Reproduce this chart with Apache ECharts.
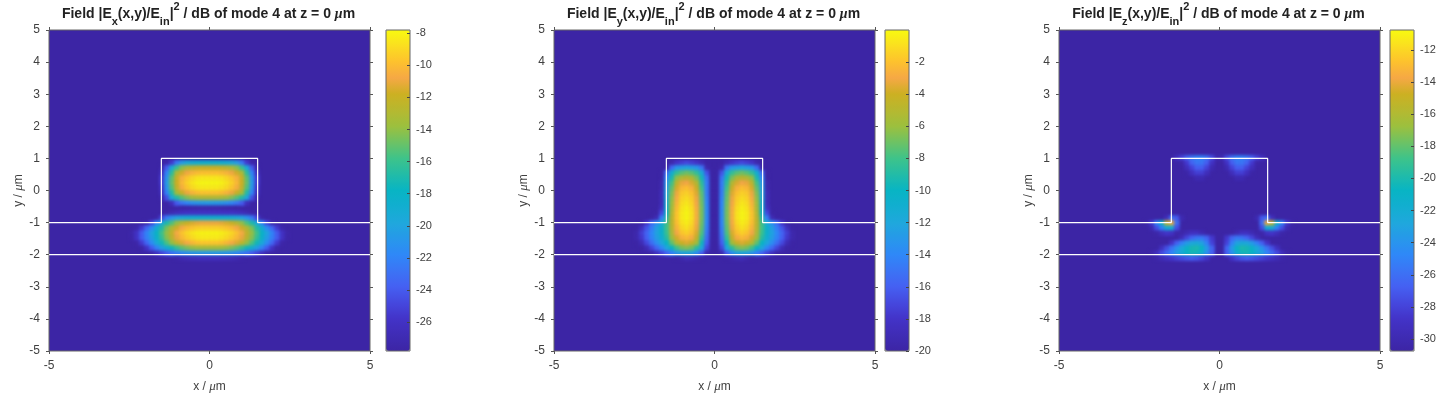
<!DOCTYPE html>
<html>
<head>
<meta charset="utf-8">
<style>
html, body { margin: 0; background: #fff; }
#chart { width: 1445px; height: 394px; }
/* the heatmaps sit on their own layer, soften the mesh like the shaded original */
#chart canvas[data-zr-dom-id="zr_1"] { filter: blur(1.8px); }
</style>
<script src="https://cdn.jsdelivr.net/npm/echarts@6/dist/echarts.min.js"></script>
</head>
<body>
<div id="chart"></div>
<script>
const _ = null // below the colour floor, the plot background shows

// waveguide outline and substrate line, in um
const ridgeX = [-5, -1.5, -1.5, 1.5, 1.5, 5]
const ridgeY = [-1, -1, 1, 1, -1, -1]
const substrateX = [-5, 5]
const substrateY = [-2, -2]

const exBarTicks = [-8, -10, -12, -14, -16, -18, -20, -22, -24, -26]
const eyBarTicks = [-2, -4, -6, -8, -10, -12, -14, -16, -18, -20]
const ezBarTicks = [-12, -14, -16, -18, -20, -22, -24, -26, -28, -30]

const exRange = [-27.8, -7.8]
const eyRange = [-20, 0]
const ezRange = [-30.75, -10.75]

// field in dB on a 64x64 mesh, only the rows and columns around the guide are listed
const exField = [
  [_,_,_,_,_,_,_,-27.5,-25.5,-22.5,-20.5,-19.5,-19,-18.7,-18.5,-18.5,-18.5,-18.5,-18.7,-19,-19.5,-20.5,-22.5,-25.5,-27.5,_,_,_,_,_,_,_],
  [_,_,_,_,_,_,-27.5,-24,-19.5,-16,-14.2,-13.2,-12.6,-12.2,-12,-12,-12,-12,-12.2,-12.6,-13.2,-14.2,-16,-19.5,-24,-27.5,_,_,_,_,_,_],
  [_,_,_,_,_,_,-26.5,-22,-16.5,-13.2,-11.7,-10.9,-10.3,-10,-9.8,-9.8,-9.8,-9.8,-10,-10.3,-10.9,-11.7,-13.2,-16.5,-22,-26.5,_,_,_,_,_,_],
  [_,_,_,_,_,_,-25.5,-21,-15.2,-12,-10.4,-9.6,-9,-8.6,-8.4,-8.4,-8.4,-8.4,-8.6,-9,-9.6,-10.4,-12,-15.2,-21,-25.5,_,_,_,_,_,_],
  [_,_,_,_,_,_,-25.5,-20.5,-15,-11.8,-10.1,-9.2,-8.5,-8.1,-7.9,-7.9,-7.9,-7.9,-8.1,-8.5,-9.2,-10.1,-11.8,-15,-20.5,-25.5,_,_,_,_,_,_],
  [_,_,_,_,_,_,-26,-21,-15.4,-12.2,-10.5,-9.6,-8.9,-8.5,-8.3,-8.3,-8.3,-8.3,-8.5,-8.9,-9.6,-10.5,-12.2,-15.4,-21,-26,_,_,_,_,_,_],
  [_,_,_,_,_,_,-26.5,-22,-16.8,-13.6,-12,-11,-10.3,-9.9,-9.7,-9.7,-9.7,-9.7,-9.9,-10.3,-11,-12,-13.6,-16.8,-22,-26.5,_,_,_,_,_,_],
  [_,_,_,_,_,_,-27.5,-24.5,-19.7,-16.8,-15.4,-14.4,-13.7,-13.3,-13,-13,-13,-13,-13.3,-13.7,-14.4,-15.4,-16.8,-19.7,-24.5,-27.5,_,_,_,_,_,_],
  [_,_,_,_,_,_,_,_,-26.5,-24,-22.6,-21.8,-21.2,-20.8,-20.6,-20.5,-20.5,-20.6,-20.8,-21.2,-21.8,-22.6,-24,-26.5,_,_,_,_,_,_,_,_],
  [_,_,_,_,_,_,_,_,_,_,-27.7,-27.6,-27.5,-27.4,-27.3,-27.3,-27.3,-27.3,-27.4,-27.5,-27.6,-27.7,_,_,_,_,_,_,_,_,_,_],
  [_,_,_,_,_,_,_,-27.5,-27,-26.5,-26.2,-26,-26,-26,-26,-26,-26,-26,-26,-26,-26,-26.2,-26.5,-27,-27.5,_,_,_,_,_,_,_],
  [_,_,_,_,_,-27.6,-25,-22.5,-21,-20,-19.4,-19,-18.8,-18.6,-18.5,-18.5,-18.5,-18.5,-18.6,-18.8,-19,-19.4,-20,-21,-22.5,-25,-27.6,_,_,_,_,_],
  [_,_,_,-27.5,-25,-22,-19.5,-17,-15.5,-14,-12.8,-12,-11.5,-11.2,-11,-11,-11,-11,-11.2,-11.5,-12,-12.8,-14,-15.5,-17,-19.5,-22,-25,-27.5,_,_,_],
  [_,-27.5,-25.5,-23.5,-21.5,-19,-16.8,-14.6,-13,-11.7,-10.7,-10.1,-9.7,-9.4,-9.2,-9.2,-9.2,-9.2,-9.4,-9.7,-10.1,-10.7,-11.7,-13,-14.6,-16.8,-19,-21.5,-23.5,-25.5,-27.5,_],
  [-27.5,-26,-24,-22,-20,-18,-15.8,-14,-12.3,-10.7,-9.7,-9,-8.5,-8.2,-8,-8,-8,-8,-8.2,-8.5,-9,-9.7,-10.7,-12.3,-14,-15.8,-18,-20,-22,-24,-26,-27.5],
  [-27.6,-26,-24,-22.2,-20.4,-18.3,-16.2,-14.3,-12.6,-11.1,-10.1,-9.4,-8.9,-8.5,-8.3,-8.3,-8.3,-8.3,-8.5,-8.9,-9.4,-10.1,-11.1,-12.6,-14.3,-16.2,-18.3,-20.4,-22.2,-24,-26,-27.6],
  [_,-27.6,-25.5,-23.5,-21.5,-19.4,-17.4,-15.6,-14,-12.5,-11.4,-10.7,-10.2,-9.8,-9.6,-9.6,-9.6,-9.6,-9.8,-10.2,-10.7,-11.4,-12.5,-14,-15.6,-17.4,-19.4,-21.5,-23.5,-25.5,-27.6,_],
  [_,_,-27.7,-26,-24,-22.1,-20.4,-18.9,-17.5,-16.2,-15.2,-14.5,-14,-13.7,-13.5,-13.5,-13.5,-13.5,-13.7,-14,-14.5,-15.2,-16.2,-17.5,-18.9,-20.4,-22.1,-24,-26,-27.7,_,_],
  [_,_,_,_,-27.5,-26.2,-25,-24,-23,-22.2,-21.6,-21.1,-20.8,-20.6,-20.5,-20.5,-20.5,-20.5,-20.6,-20.8,-21.1,-21.6,-22.2,-23,-24,-25,-26.2,-27.5,_,_,_,_],
  [_,_,_,_,_,_,_,_,_,-27.6,-27.2,-26.9,-26.7,-26.6,-26.5,-26.5,-26.5,-26.5,-26.6,-26.7,-26.9,-27.2,-27.6,_,_,_,_,_,_,_,_,_]
]

const eyField = [
  [_,_,_,_,_,_,-20,-19.5,-18,-17.5,-17,-17.5,-18,-19,-20,-20,-20,-20,-19,-18,-17.5,-17,-17.5,-18,-19.5,-20,_,_,_,_,_,_],
  [_,_,_,_,_,_,-20,-15.5,-13,-12.5,-12,-12.5,-13,-15,-19.5,-20,-20,-19.5,-15,-13,-12.5,-12,-12.5,-13,-15.5,-20,_,_,_,_,_,_],
  [_,_,_,_,_,-20,-15.5,-11,-8.5,-7.5,-7,-7.5,-8.5,-11.5,-16.5,-20,-20,-16.5,-11.5,-8.5,-7.5,-7,-7.5,-8.5,-11,-15.5,-20,_,_,_,_,_],
  [_,_,_,_,_,-20,-14,-9.3,-6.3,-5.2,-4.8,-5.3,-6.8,-9.5,-15,-20,-20,-15,-9.5,-6.8,-5.3,-4.8,-5.2,-6.3,-9.3,-14,-20,_,_,_,_,_],
  [_,_,_,_,_,-19.5,-13,-8,-4.8,-3.3,-3,-3.7,-5.2,-8.7,-14.5,-20,-20,-14.5,-8.7,-5.2,-3.7,-3,-3.3,-4.8,-8,-13,-19.5,_,_,_,_,_],
  [_,_,_,_,_,-19.5,-12.5,-7.3,-3.8,-2.3,-2,-2.6,-4.2,-8,-14.5,-20,-20,-14.5,-8,-4.2,-2.6,-2,-2.3,-3.8,-7.3,-12.5,-19.5,_,_,_,_,_],
  [_,_,_,_,_,-19,-12,-6.7,-3.2,-1.7,-1.4,-2,-3.6,-7.5,-14.5,-20,-20,-14.5,-7.5,-3.6,-2,-1.4,-1.7,-3.2,-6.7,-12,-19,_,_,_,_,_],
  [_,_,_,_,_,-19,-11.5,-6.3,-2.8,-1.3,-1,-1.6,-3.2,-7.2,-14.2,-20,-20,-14.2,-7.2,-3.2,-1.6,-1,-1.3,-2.8,-6.3,-11.5,-19,_,_,_,_,_],
  [_,_,_,_,_,-19,-11,-6,-2.5,-1,-0.6,-1.3,-3,-7,-14,-20,-20,-14,-7,-3,-1.3,-0.6,-1,-2.5,-6,-11,-19,_,_,_,_,_],
  [_,_,_,_,_,-18.5,-10.5,-5.6,-2.2,-0.7,-0.3,-1,-2.8,-6.8,-13.8,-20,-20,-13.8,-6.8,-2.8,-1,-0.3,-0.7,-2.2,-5.6,-10.5,-18.5,_,_,_,_,_],
  [_,_,_,_,-20,-17,-10,-5.2,-1.9,-0.5,-0.1,-0.8,-2.7,-6.8,-13.8,-20,-20,-13.8,-6.8,-2.7,-0.8,-0.1,-0.5,-1.9,-5.2,-10,-17,-20,_,_,_,_],
  [_,_,_,-20,-19,-14.5,-9,-4.8,-1.9,-0.5,-0.1,-0.8,-2.7,-6.8,-13.8,-20,-20,-13.8,-6.8,-2.7,-0.8,-0.1,-0.5,-1.9,-4.8,-9,-14.5,-19,-20,_,_,_],
  [_,-20,-18,-15.5,-13.5,-11.5,-8,-4.8,-2.1,-0.8,-0.4,-1.1,-2.9,-7,-14,-20,-20,-14,-7,-2.9,-1.1,-0.4,-0.8,-2.1,-4.8,-8,-11.5,-13.5,-15.5,-18,-20,_],
  [-20,-18.5,-16.5,-14.5,-12.5,-10.5,-8,-5,-2.5,-1.2,-0.8,-1.5,-3.2,-7.3,-14.3,-20,-20,-14.3,-7.3,-3.2,-1.5,-0.8,-1.2,-2.5,-5,-8,-10.5,-12.5,-14.5,-16.5,-18.5,-20],
  [-19.5,-17.5,-15.8,-14,-12.3,-10.5,-8.2,-5.4,-3,-1.8,-1.4,-2,-3.7,-7.7,-14.8,-20,-20,-14.8,-7.7,-3.7,-2,-1.4,-1.8,-3,-5.4,-8.2,-10.5,-12.3,-14,-15.8,-17.5,-19.5],
  [-19.5,-17.8,-16,-14.2,-12.6,-11,-8.8,-6,-3.8,-2.6,-2.2,-2.8,-4.5,-8.5,-15.3,-20,-20,-15.3,-8.5,-4.5,-2.8,-2.2,-2.6,-3.8,-6,-8.8,-11,-12.6,-14.2,-16,-17.8,-19.5],
  [-20,-19,-17,-15.3,-13.6,-12,-10,-7.3,-5.2,-4,-3.6,-4.2,-5.8,-9.7,-16,-20,-20,-16,-9.7,-5.8,-4.2,-3.6,-4,-5.2,-7.3,-10,-12,-13.6,-15.3,-17,-19,-20],
  [_,-20,-19,-17.2,-15.6,-14,-12,-10,-8,-6.9,-6.5,-7,-8.7,-12,-17,-20,-20,-17,-12,-8.7,-7,-6.5,-6.9,-8,-10,-12,-14,-15.6,-17.2,-19,-20,_],
  [_,_,_,-19.8,-18.5,-17.2,-15.8,-14.4,-13,-12.2,-11.8,-12.2,-13.5,-16,-19.3,-20,-20,-19.3,-16,-13.5,-12.2,-11.8,-12.2,-13,-14.4,-15.8,-17.2,-18.5,-19.8,_,_,_],
  [_,_,_,_,_,_,_,_,-20,-19.6,-19,-19.3,-19.7,-20,_,_,_,_,-20,-19.7,-19.3,-19,-19.6,-20,_,_,_,_,_,_,_,_]
]

const ezField = [
  [_,_,_,_,_,_,_,-29.3,-28,-26.6,-25.6,-25,-25,-25.8,-27.5,-30,-30,-27.5,-25.8,-25,-25,-25.6,-26.6,-28,-29.3,_,_,_,_,_,_,_],
  [_,_,_,_,_,_,_,_,-30.5,-28.5,-26.5,-25.6,-25.6,-26.8,-29,_,_,-29,-26.8,-25.6,-25.6,-26.5,-28.5,-30.5,_,_,_,_,_,_,_,_],
  [_,_,_,_,_,_,_,_,_,-29.5,-28,-26.8,-26.8,-28,-30,_,_,-30,-28,-26.8,-26.8,-28,-29.5,_,_,_,_,_,_,_,_,_],
  [_,_,_,_,_,_,_,_,_,-30.6,-29.3,-28.2,-28.2,-29.5,_,_,_,_,-29.5,-28.2,-28.2,-29.3,-30.6,_,_,_,_,_,_,_,_,_],
  [_,_,_,_,_,_,_,_,_,_,_,-30,-30,_,_,_,_,_,_,-30,-30,_,_,_,_,_,_,_,_,_,_,_],
  [_,_,_,_,_,_,_,_,_,_,_,_,_,_,_,_,_,_,_,_,_,_,_,_,_,_,_,_,_,_,_,_],
  [_,_,_,_,_,_,_,_,_,_,_,_,_,_,_,_,_,_,_,_,_,_,_,_,_,_,_,_,_,_,_,_],
  [_,_,_,_,_,_,_,_,_,_,_,_,_,_,_,_,_,_,_,_,_,_,_,_,_,_,_,_,_,_,_,_],
  [_,_,_,_,_,_,_,_,_,_,_,_,_,_,_,_,_,_,_,_,_,_,_,_,_,_,_,_,_,_,_,_],
  [_,_,_,_,_,_,_,_,_,_,_,_,_,_,_,_,_,_,_,_,_,_,_,_,_,_,_,_,_,_,_,_],
  [_,_,_,_,_,_,_,_,_,_,_,_,_,_,_,_,_,_,_,_,_,_,_,_,_,_,_,_,_,_,_,_],
  [_,_,_,_,_,_,_,_,_,_,_,_,_,_,_,_,_,_,_,_,_,_,_,_,_,_,_,_,_,_,_,_],
  [_,_,_,_,_,-29.5,-26,-27,-30,_,_,_,_,_,_,_,_,_,_,_,_,_,_,-30,-27,-26,-29.5,_,_,_,_,_],
  [_,-30.5,-28.5,-25,-21,-15,-14,-26,_,_,_,_,_,_,_,_,_,_,_,_,_,_,_,_,-26,-14,-15,-21,-25,-28.5,-30.5,_],
  [_,_,-30,-27.5,-25,-22,-22,-27.5,_,_,_,_,_,_,_,_,_,_,_,_,_,_,_,_,-27.5,-22,-22,-25,-27.5,-30,_,_],
  [_,_,_,-30.5,-29.5,-28.7,-29,-30.5,-30.5,-29.8,-29.2,-29.2,-30,_,_,_,_,_,_,-30,-29.2,-29.2,-29.8,-30.5,-30.5,-29,-28.7,-29.5,-30.5,_,_,_],
  [_,_,_,_,_,_,_,_,-29.5,-27.8,-26.5,-25.7,-25.5,-26.5,-28.5,_,_,-28.5,-26.5,-25.5,-25.7,-26.5,-27.8,-29.5,_,_,_,_,_,_,_,_],
  [_,_,_,_,_,_,-28.8,-26.8,-25,-23.5,-22.6,-22.4,-23,-25,-28,_,_,-28,-25,-23,-22.4,-22.6,-23.5,-25,-26.8,-28.8,_,_,_,_,_,_],
  [_,_,_,_,-29.2,-27.5,-25.8,-24,-22.5,-21,-20.2,-20,-20.8,-23.5,-26.5,_,_,-26.5,-23.5,-20.8,-20,-20.2,-21,-22.5,-24,-25.8,-27.5,-29.2,_,_,_,_],
  [_,_,-30.5,-29.3,-27.6,-26.2,-24.8,-23.3,-22,-20.8,-20.2,-20.4,-21.6,-24,-26.7,_,_,-26.7,-24,-21.6,-20.4,-20.2,-20.8,-22,-23.3,-24.8,-26.2,-27.6,-29.3,-30.5,_,_],
  [_,_,_,-30.5,-29.8,-29.2,-28.7,-28.2,-27.7,-27.3,-27,-27.3,-28,-29,_,_,_,_,-29,-28,-27.3,-27,-27.3,-27.7,-28.2,-28.7,-29.2,-29.8,-30.5,_,_,_]
]

const meshSize = 64
const firstCol = 16
const parula = [
  '#3c25a5', '#3f2cb5', '#4333c8', '#4548de', '#4560f2', '#3b74f5', '#2f88f8',
  '#2798ea', '#1fa8dc', '#12aed0', '#08b4c4', '#22bca7', '#3ec38a', '#6dc264',
  '#9cc03e', '#b6b830', '#ccb022', '#f5a845', '#fdc12e', '#fbde20', '#f8fa10'
]

const panels = [
  { comp: 'x', field: exField, firstRow: 26, range: exRange, barTicks: exBarTicks, left: 49, barLeft: 386 },
  { comp: 'y', field: eyField, firstRow: 26, range: eyRange, barTicks: eyBarTicks, left: 554, barLeft: 885 },
  { comp: 'z', field: ezField, firstRow: 25, range: ezRange, barTicks: ezBarTicks, left: 1059, barLeft: 1390 }
]

const plotTop = 30
const size = 321
const tickColor = '#555'
const labelColor = '#404040'
const font = 'Liberation Sans'
const meshCats = Array.from({ length: meshSize }, (v, i) => String(i))

const muRich = {
  mu: { fontFamily: 'Liberation Serif', fontStyle: 'italic', fontSize: 13, color: labelColor }
}

const option = {
  animation: false,
  textStyle: { fontFamily: font },
  title: [],
  grid: [],
  xAxis: [],
  yAxis: [],
  visualMap: [],
  series: []
}

function frameAxis(extra) {
  return Object.assign({
    type: 'value',
    min: -5,
    max: 5,
    splitLine: { show: false },
    axisLine: { show: false, onZero: false },
    axisTick: { show: true, length: 3, lineStyle: { color: tickColor } },
    axisLabel: { show: false }
  }, extra)
}

function nameStyle() {
  return { color: labelColor, fontSize: 12, rich: muRich }
}

panels.forEach((p, n) => {
  const base = option.grid.length

  // field mesh, axes hidden, same rectangle as the frame
  option.grid.push({ left: p.left, top: plotTop, width: size, height: size, backgroundColor: parula[0], show: true, borderWidth: 0, outerBoundsMode: 'none' })
  // frame with ticks and the outline
  option.grid.push({ left: p.left, top: plotTop, width: size, height: size, show: true, borderColor: '#666', borderWidth: 1, backgroundColor: 'transparent', z: 3, outerBoundsMode: 'none' })
  // colourbar frame and ticks, drawn over the visualMap bar
  option.grid.push({ left: p.barLeft, top: plotTop, width: 24, height: size, show: true, borderColor: '#666', borderWidth: 1, backgroundColor: 'transparent', z: 6, outerBoundsMode: 'none' })

  const xBase = option.xAxis.length
  const yBase = option.yAxis.length

  option.xAxis.push(
    { type: 'category', gridIndex: base, data: meshCats, show: false },
    frameAxis({
      gridIndex: base + 1, position: 'bottom', interval: 5,
      name: 'x / {mu|\u03bc}m', nameLocation: 'middle', nameGap: 29, nameMoveOverlap: false, nameTextStyle: nameStyle(),
      axisLabel: { show: true, color: labelColor, fontSize: 12, margin: 9 }
    }),
    frameAxis({ gridIndex: base + 1, position: 'top', interval: 5 }),
    { type: 'value', gridIndex: base + 2, min: 0, max: 1, show: false }
  )
  option.yAxis.push(
    { type: 'category', gridIndex: base, data: meshCats, show: false },
    frameAxis({
      gridIndex: base + 1, position: 'left', interval: 1,
      name: 'y / {mu|\u03bc}m', nameLocation: 'middle', nameGap: 24, nameMoveOverlap: false, nameTextStyle: nameStyle(),
      axisLabel: { show: true, color: labelColor, fontSize: 12, margin: 9 }
    }),
    frameAxis({ gridIndex: base + 1, position: 'right', interval: 1 }),
    {
      type: 'value', gridIndex: base + 2, position: 'right', min: p.range[0], max: p.range[1], z: 7,
      splitLine: { show: false },
      axisLine: { show: false, onZero: false },
      axisTick: { show: true, inside: true, length: 3, lineStyle: { color: '#444' }, customValues: p.barTicks },
      axisLabel: { show: true, color: labelColor, fontSize: 11, margin: 6, customValues: p.barTicks }
    }
  )

  const cells = []
  p.field.forEach((row, r) => {
    row.forEach((v, c) => {
      if (v !== null) cells.push([firstCol + c, meshSize - 1 - (p.firstRow + r), v])
    })
  })

  const heatIndex = option.series.length
  option.series.push({
    type: 'heatmap',
    xAxisIndex: xBase,
    yAxisIndex: yBase,
    data: cells,
    silent: true,
    zlevel: 1,
    emphasis: { disabled: true }
  })
  option.series.push({
    type: 'line',
    xAxisIndex: xBase + 1,
    yAxisIndex: yBase + 1,
    data: ridgeX.map((x, i) => [x, ridgeY[i]]),
    showSymbol: false,
    silent: true,
    zlevel: 2,
    lineStyle: { color: '#fff', width: 1.2 }
  })
  option.series.push({
    type: 'line',
    xAxisIndex: xBase + 1,
    yAxisIndex: yBase + 1,
    data: substrateX.map((x, i) => [x, substrateY[i]]),
    showSymbol: false,
    silent: true,
    zlevel: 2,
    lineStyle: { color: '#fff', width: 1.2 }
  })

  option.visualMap.push({
    type: 'continuous',
    seriesIndex: heatIndex,
    min: p.range[0],
    max: p.range[1],
    left: p.barLeft,
    top: plotTop,
    padding: 0,
    itemWidth: 24,
    itemHeight: size,
    calculable: false,
    hoverLink: false,
    text: null,
    inRange: { color: parula }
  })

  option.title.push({
    left: p.left + size / 2 - 6,
    top: -4,
    textAlign: 'center',
    text: '{b|Field |E}{s|' + p.comp + '}{b|(x,y)/E}{s|in}{b||}{u|2}{b| / dB of mode 4 at z = 0 }{m|\u03bc}{b|m}',
    textStyle: {
      rich: {
        b: { fontFamily: font, fontWeight: 'bold', fontSize: 14, color: '#222', lineHeight: 26 },
        s: { fontFamily: font, fontWeight: 'bold', fontSize: 11, color: '#222', verticalAlign: 'bottom', lineHeight: 26 },
        u: { fontFamily: font, fontWeight: 'bold', fontSize: 11, color: '#222', verticalAlign: 'top', lineHeight: 26 },
        m: { fontFamily: 'Liberation Serif', fontStyle: 'italic', fontSize: 14, color: '#222', lineHeight: 26 }
      }
    }
  })
})

const chart = echarts.init(document.getElementById('chart'), null, { renderer: 'canvas' })
chart.setOption(option)
</script>
</body>
</html>
